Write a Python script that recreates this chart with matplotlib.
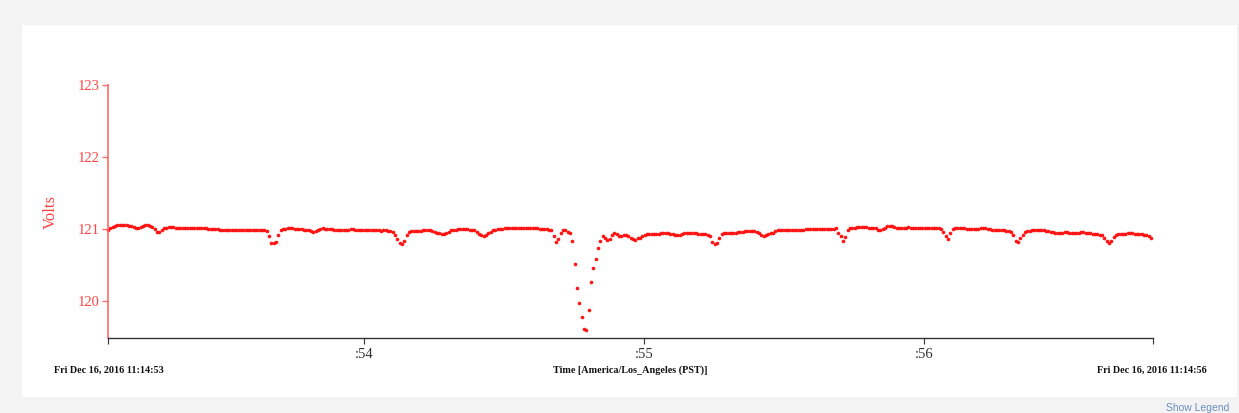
import numpy as np
import matplotlib
matplotlib.use("Agg")
import matplotlib.pyplot as plt
from matplotlib.patches import Rectangle

# ---------------- data ----------------
start_seconds = 53.086          # seconds after 11:14:00 of first sample
sample_rate_hz = 120            # samples per second
x_range = (53.086, 56.818)
x_ticks = [54, 55, 56]
x_tick_labels = [":54", ":55", ":56"]
y_ticks = [120, 121, 122, 123]
y_range = (119.486, 123)
left_label = "Fri Dec 16, 2016 11:14:53"
right_label = "Fri Dec 16, 2016 11:14:56"
x_title = "Time [America/Los_Angeles (PST)]"
y_title = "Volts"

volts = [
    120.99, 121.01, 121.03, 121.04, 121.05, 121.05, 121.05, 121.05, 121.05, 121.04,
    121.04, 121.03, 121.02, 121.02, 121.03, 121.04, 121.05, 121.05, 121.04, 121.03,
    121.00, 120.96, 120.96, 120.99, 121.01, 121.02, 121.03, 121.03, 121.03, 121.02,
    121.01, 121.01, 121.01, 121.02, 121.02, 121.02, 121.02, 121.02, 121.02, 121.01,
    121.01, 121.01, 121.01, 121.00, 121.00, 121.00, 121.00, 121.00, 120.99, 120.99,
    120.99, 120.99, 120.99, 120.99, 120.99, 120.98, 120.98, 120.98, 120.98, 120.98,
    120.98, 120.98, 120.98, 120.99, 120.99, 120.98, 120.98, 120.98, 120.97, 120.90,
    120.81, 120.80, 120.82, 120.92, 120.99, 121.00, 121.00, 121.01, 121.01, 121.01,
    121.00, 121.00, 121.00, 121.00, 120.99, 120.99, 120.98, 120.97, 120.96, 120.97,
    120.99, 121.00, 121.01, 121.00, 121.00, 121.00, 121.00, 120.99, 120.99, 120.99,
    120.99, 120.99, 120.99, 120.99, 121.00, 121.00, 120.99, 120.99, 120.99, 120.99,
    120.99, 120.99, 120.99, 120.99, 120.98, 120.98, 120.98, 120.97, 120.98, 120.98,
    120.97, 120.97, 120.96, 120.92, 120.86, 120.81, 120.79, 120.84, 120.91, 120.96,
    120.97, 120.97, 120.97, 120.97, 120.97, 120.98, 120.98, 120.98, 120.98, 120.97,
    120.96, 120.95, 120.94, 120.93, 120.93, 120.94, 120.96, 120.98, 120.99, 120.99,
    121.00, 121.00, 121.00, 121.00, 121.00, 120.99, 120.99, 120.98, 120.96, 120.93,
    120.91, 120.90, 120.91, 120.94, 120.96, 120.98, 120.99, 121.00, 121.00, 121.00,
    121.01, 121.01, 121.01, 121.01, 121.01, 121.01, 121.01, 121.01, 121.02, 121.02,
    121.02, 121.01, 121.01, 121.01, 121.01, 121.00, 121.00, 121.00, 121.00, 120.99,
    120.98, 120.90, 120.82, 120.86, 120.94, 120.98, 120.98, 120.96, 120.95, 120.83,
    120.51, 120.18, 119.97, 119.78, 119.61, 119.60, 119.88, 120.26, 120.46, 120.58,
    120.73, 120.84, 120.90, 120.88, 120.85, 120.86, 120.91, 120.94, 120.93, 120.90,
    120.90, 120.91, 120.91, 120.90, 120.88, 120.86, 120.85, 120.87, 120.88, 120.90,
    120.92, 120.93, 120.93, 120.93, 120.93, 120.93, 120.93, 120.94, 120.94, 120.94,
    120.94, 120.93, 120.93, 120.92, 120.92, 120.92, 120.93, 120.94, 120.95, 120.95,
    120.94, 120.94, 120.94, 120.93, 120.93, 120.93, 120.93, 120.92, 120.90, 120.82,
    120.79, 120.80, 120.87, 120.93, 120.95, 120.94, 120.94, 120.95, 120.95, 120.95,
    120.96, 120.96, 120.96, 120.97, 120.97, 120.97, 120.97, 120.97, 120.96, 120.94,
    120.92, 120.90, 120.91, 120.93, 120.94, 120.95, 120.97, 120.98, 120.98, 120.98,
    120.98, 120.98, 120.98, 120.98, 120.99, 120.99, 120.99, 120.99, 120.99, 121.00,
    121.00, 121.00, 121.00, 121.00, 121.00, 121.00, 121.00, 121.00, 121.00, 121.00,
    121.00, 121.00, 121.01, 120.95, 120.90, 120.84, 120.89, 120.98, 121.01, 121.02,
    121.02, 121.03, 121.03, 121.03, 121.03, 121.03, 121.02, 121.02, 121.02, 121.01,
    120.99, 120.98, 121.00, 121.02, 121.04, 121.04, 121.04, 121.03, 121.02, 121.01,
    121.01, 121.02, 121.02, 121.03, 121.02, 121.02, 121.02, 121.02, 121.02, 121.01,
    121.02, 121.02, 121.01, 121.01, 121.01, 121.01, 121.01, 121.00, 120.96, 120.90,
    120.86, 120.94, 121.00, 121.01, 121.01, 121.01, 121.01, 121.01, 121.00, 121.00,
    121.00, 121.00, 121.00, 121.00, 121.01, 121.01, 121.01, 121.00, 121.00, 120.99,
    120.99, 120.99, 120.98, 120.98, 120.98, 120.97, 120.97, 120.96, 120.92, 120.84,
    120.82, 120.87, 120.92, 120.96, 120.97, 120.97, 120.98, 120.98, 120.98, 120.98,
    120.98, 120.98, 120.97, 120.97, 120.96, 120.96, 120.95, 120.94, 120.94, 120.95,
    120.96, 120.96, 120.95, 120.94, 120.94, 120.95, 120.95, 120.96, 120.96, 120.95,
    120.94, 120.94, 120.93, 120.93, 120.93, 120.92, 120.92, 120.88, 120.83, 120.81,
    120.84, 120.89, 120.92, 120.93, 120.93, 120.93, 120.93, 120.94, 120.94, 120.94,
    120.93, 120.93, 120.93, 120.93, 120.92, 120.92, 120.90, 120.87,
]

times = start_seconds + np.arange(len(volts)) / sample_rate_hz

# ---------------- figure ----------------
W, H = 1239, 413
fig = plt.figure(figsize=(W / 100, H / 100), dpi=100, facecolor="#f3f3f3")
fig.add_artist(Rectangle((22 / W, (H - 397) / H), (1237 - 22) / W, (397 - 25) / H,
                         transform=fig.transFigure, facecolor="white",
                         edgecolor="none", zorder=0))

ax = fig.add_axes([108 / W, (H - 338) / H, (1153 - 108) / W, (338 - 85) / H])
ax.patch.set_alpha(0)

ax.plot(times, volts, linestyle="none", marker="o", markersize=2.6,
        markerfacecolor="#ff1414", markeredgewidth=0, color="#ff1414",
        clip_on=False)

ax.set_xlim(*x_range)
ax.set_ylim(*y_range)

serif = ["Liberation Serif", "DejaVu Serif"]
red_axis = "#ff6b6b"
red_text = "#ff4444"

for s in ["top", "right"]:
    ax.spines[s].set_visible(False)
ax.spines["left"].set_color(red_axis)
ax.spines["left"].set_linewidth(1.2)
ax.spines["left"].set_bounds(y_range[0], 123)
ax.spines["bottom"].set_color("#333333")
ax.spines["bottom"].set_linewidth(1.0)

ax.set_yticks(y_ticks)
ax.set_yticklabels([str(v) for v in y_ticks], fontfamily=serif, fontsize=10.5,
                   color=red_text)
ax.tick_params(axis="y", colors=red_axis, length=4.5, width=1.0, pad=1.5,
               labelcolor=red_text)

xt = [x_range[0]] + x_ticks + [x_range[1]]
ax.set_xticks(xt)
ax.set_xticklabels([""] + x_tick_labels + [""], fontfamily=serif, fontsize=10.5,
                   color="#333333")
ax.tick_params(axis="x", colors="#333333", length=4.5, width=0.8, pad=2.5)

fig.text(51 / W, 1 - 212 / H, y_title, rotation=90, ha="center", va="center",
         fontfamily=serif, fontsize=12, color=red_text)

bold = dict(fontfamily=serif, fontsize=7.3, fontweight="bold", color="#111111",
            va="center")
fig.text(54 / W, 1 - 370 / H, left_label, ha="left", **bold)
fig.text(630 / W, 1 - 370 / H, x_title, ha="center", **bold)
fig.text(1207 / W, 1 - 370 / H, right_label, ha="right", **bold)

fig.text(1229 / W, 1 - 408 / H, "Show Legend", ha="right", va="center",
         fontfamily=["Liberation Sans", "DejaVu Sans"], fontsize=7.5,
         color="#6a8fc0")

fig.savefig("out.png", dpi=100, facecolor=fig.get_facecolor())
